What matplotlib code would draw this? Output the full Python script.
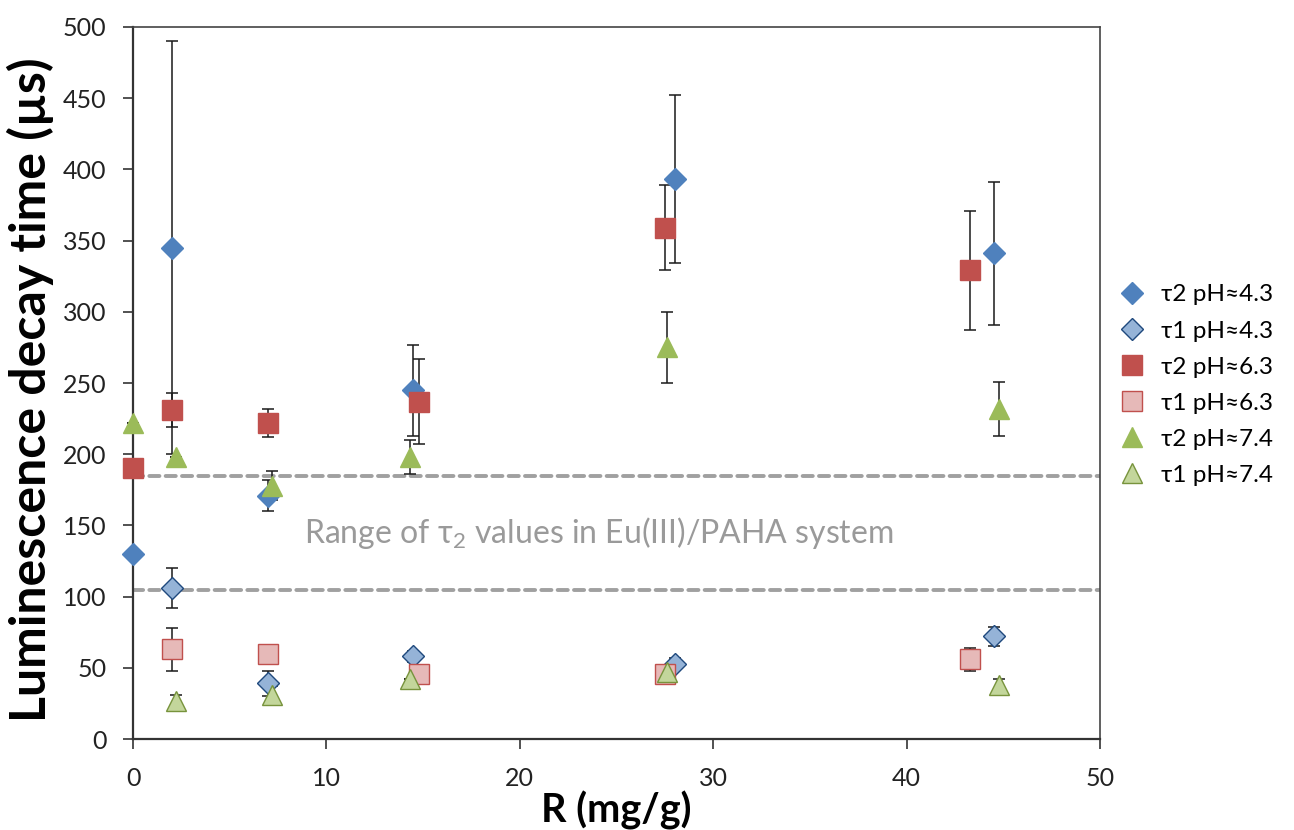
import numpy as np
import matplotlib
matplotlib.use("Agg")
import matplotlib.pyplot as plt

plt.rcParams['font.family'] = ['Lato', 'Open Sans', 'DejaVu Sans']
plt.rcParams['mathtext.fontset'] = 'custom'
plt.rcParams['mathtext.rm'] = 'Lato'
plt.rcParams['mathtext.it'] = 'Lato:italic'
plt.rcParams['mathtext.bf'] = 'Lato:bold'

# tau2 / tau1 at pH 4.3
x_t2_43 = [0, 2.0, 7.0, 14.5, 28.0, 44.5]
y_t2_43 = [130, 345, 171, 245, 393, 341]
e_t2_43 = [0, 145, 11, 32, 59, 50]
x_t1_43 = [2.0, 7.0, 14.5, 28.0, 44.5]
y_t1_43 = [106, 39, 58, 53, 72]
e_t1_43 = [14, 8.5, 4, 4, 7]

# pH 6.3
x_t2_63 = [0, 2.0, 7.0, 14.8, 27.5, 43.3]
y_t2_63 = [190, 231, 222, 237, 359, 329]
e_t2_63 = [0, 12, 10, 30, 30, 42]
x_t1_63 = [2.0, 7.0, 14.8, 27.5, 43.3]
y_t1_63 = [63, 60, 46, 46, 56]
e_t1_63 = [15, 0, 0, 0, 8]

# pH 7.4
x_t2_74 = [0, 2.2, 7.2, 14.3, 27.6, 44.8]
y_t2_74 = [222, 198, 178, 198, 275, 232]
e_t2_74 = [0, 0, 10, 12, 25, 19]
x_t1_74 = [2.2, 7.2, 14.3, 27.6, 44.8]
y_t1_74 = [27, 31, 42, 47, 38]
e_t1_74 = [4, 6, 0, 3, 4]

range_lines = [105, 185]

series = [
    (x_t2_43, y_t2_43, e_t2_43, 'D', 11.5, '#4F81BD', '#4F81BD', 'τ2 pH≈4.3'),
    (x_t1_43, y_t1_43, e_t1_43, 'D', 11.5, '#95B3D7', '#1F497D', 'τ1 pH≈4.3'),
    (x_t2_63, y_t2_63, e_t2_63, 's', 14.5, '#C0504D', '#C0504D', 'τ2 pH≈6.3'),
    (x_t1_63, y_t1_63, e_t1_63, 's', 14.5, '#E6B9B8', '#C0504D', 'τ1 pH≈6.3'),
    (x_t2_74, y_t2_74, e_t2_74, '^', 14.5, '#9BBB59', '#9BBB59', 'τ2 pH≈7.4'),
    (x_t1_74, y_t1_74, e_t1_74, '^', 14.5, '#C3D69B', '#77933C', 'τ1 pH≈7.4'),
]

fig = plt.figure(figsize=(12.94, 8.3), dpi=100)
ax = fig.add_axes([0.1028, 0.1096, 0.7473, 0.8579])

for yv in range_lines:
    ax.plot([0, 50], [yv, yv], color='#A0A0A0', lw=2.8, dashes=(2.6, 1.6),
            dash_capstyle='round', zorder=1)

for xs, ys, es, m, ms, fc, ec, lab in series:
    ax.errorbar(xs, ys, yerr=es, fmt='none', ecolor='#1a1a1a', elinewidth=1.1,
                capsize=4.5, capthick=1.1, zorder=2, clip_on=False)
    ax.plot(xs, ys, linestyle='none', marker=m, markersize=ms, markerfacecolor=fc,
            markeredgecolor=ec, markeredgewidth=1.0, label=lab, zorder=3, clip_on=False)

ax.text(24.1, 145, r'Range of τ$_\mathrm{2}$ values in Eu(III)/PAHA system', color='#9A9A9A',
        fontsize=23, ha='center', va='center')

ax.set_xlim(0, 50)
ax.set_ylim(0, 500)
ax.set_xticks(np.arange(0, 51, 10))
ax.set_yticks(np.arange(0, 501, 50))
ax.tick_params(axis='both', direction='out', length=7, width=1.2, color='#333333',
               labelsize=18, labelcolor='#222222')
ax.tick_params(axis='x', pad=13)
ax.tick_params(axis='y', pad=12)
for side in ['left', 'bottom']:
    ax.spines[side].set_linewidth(1.6)
    ax.spines[side].set_color('#333333')
for side in ['top', 'right']:
    ax.spines[side].set_linewidth(1.2)
    ax.spines[side].set_color('#444444')

ax.set_ylabel('Luminescence decay time (µs)', fontsize=36, fontweight='bold', labelpad=8)
ax.yaxis.set_label_coords(-0.082, 0.49)
ax.set_xlabel('R (mg/g)', fontsize=28.5, fontweight='bold', labelpad=0.5)

ax.legend(loc='center left', bbox_to_anchor=(1.0, 0.497), frameon=False,
          fontsize=17.5, handlelength=1.2, handletextpad=0.6, labelspacing=0.62,
          borderaxespad=0.3, borderpad=0.4)

fig.savefig('out.png', dpi=100)
